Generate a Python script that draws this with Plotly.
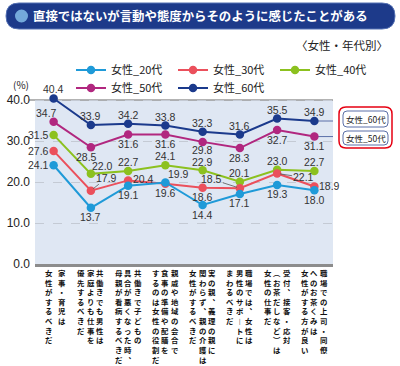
import plotly.graph_objects as go

# ---------------- data ----------------
categories = [
    "家事・育児は女性がするべきだ",
    "共働きでも男性は家庭よりも仕事を優先するべきだ",
    "共働きで子どもの具合が悪くなった時、母親が看病するべきだ",
    "親戚や地域の会合で食事の準備や配膳をするのは女性の役割だ",
    "実の親、義理の親に関わらず、親の介護は女性がするべきだ",
    "職場では、女性は男性のサポートにまわるべきだ",
    "受付、接客・応対（お茶だしなど）は女性の仕事だ",
    "職場での上司・同僚へのお茶くみは女性がする方が良い",
]
# vertical label columns (right-to-left reading order)
category_columns = [
    ["家事・育児は", "女性がするべきだ"],
    ["共働きでも男性は", "家庭よりも仕事を", "優先するべきだ"],
    ["共働きで子どもの", "具合が悪くなった時、", "母親が看病するべきだ"],
    ["親戚や地域の会合で", "食事の準備や配膳を", "するのは女性の役割だ"],
    ["実の親、義理の親に", "関わらず、親の介護は", "女性がするべきだ"],
    ["職場では、女性は", "男性のサポートに", "まわるべきだ"],
    ["受付、接客・応対", "（お茶だしなど）は", "女性の仕事だ"],
    ["職場での上司・同僚", "へのお茶くみは", "女性がする方が良い"],
]
series_names = ["女性_20代", "女性_30代", "女性_40代", "女性_50代", "女性_60代"]
v20 = [24.1, 13.7, 19.1, 19.9, 14.4, 17.1, 19.3, 18.0]
v30 = [27.6, 17.9, 20.4, 19.6, 18.6, 18.5, 22.1, 18.9]
v40 = [31.5, 22.0, 22.7, 24.1, 22.9, 20.1, 23.0, 22.7]
v50 = [34.7, 28.5, 31.6, 31.6, 29.8, 28.3, 32.7, 31.1]
v60 = [40.4, 33.9, 34.2, 33.8, 32.3, 31.6, 35.5, 34.9]
y_ticks = [0, 10, 20, 30, 40]
y_max = 41  # axis headroom so the 40.4 label can be shown
title_text = "直接ではないが言動や態度からそのように感じたことがある"
subtitle_text = "〈女性・年代別〉"
callout_series = ["女性_60代", "女性_50代"]

# ---------------- styles ----------------
colors = ["#1f9ad8", "#eb505c", "#8cc11f", "#b1277f", "#1b3a8c"]
L, R, T, B = "left", "right", "top", "bottom"
label_pos = [
    [L, B, B, None, B, B, B, B],
    [L, None, R, B, B, None, None, R],
    [L, T, T, T, T, T, T, T],
    [T, B, B, B, B, B, B, B],
    [T, T, T, T, T, T, T, T],
]
pos_style = {
    T: dict(xanchor="center", yanchor="middle", xshift=0, yshift=9),
    B: dict(xanchor="center", yanchor="middle", xshift=0, yshift=-9.5),
    L: dict(xanchor="right", yanchor="middle", xshift=-4, yshift=0),
    R: dict(xanchor="left", yanchor="middle", xshift=4, yshift=1),
}
label_nudge = {(2, 1): (12, -1), (3, 1): (-4, 0), (3, 0): (-7, 0),
               (3, 4): (0, 1), (2, 4): (0, -1)}
# leader-line labels: (series index, category index) -> text offset px
leaders = {(0, 3): (13, -8), (1, 1): (16, -13), (1, 5): (-28, -9), (1, 6): (26, 4)}
# legend item positions (container px: legend left, row centre)
legend_pos = [(71, 70), (173, 70), (275, 70), (71, 88), (173, 88)]

FONT = "Noto Sans CJK JP"
NUM_FONT = "Liberation Sans"
W, H = 400, 366
ML, MR, MT, MB = 35, 67, 96, 102
PW, PH = W - ML - MR, H - MT - MB


def px_x(px):
    return (px - ML) / PW


def px_y(py):
    return (H - MB - py) / PH


def rrect(x0, y0, x1, y1, r):
    X, Y = px_x, px_y
    return (f"M {X(x0 + r)},{Y(y0)} L {X(x1 - r)},{Y(y0)} Q {X(x1)},{Y(y0)} {X(x1)},{Y(y0 + r)} "
            f"L {X(x1)},{Y(y1 - r)} Q {X(x1)},{Y(y1)} {X(x1 - r)},{Y(y1)} "
            f"L {X(x0 + r)},{Y(y1)} Q {X(x0)},{Y(y1)} {X(x0)},{Y(y1 - r)} "
            f"L {X(x0)},{Y(y0 + r)} Q {X(x0)},{Y(y0)} {X(x0 + r)},{Y(y0)} Z")


all_values = [v20, v30, v40, v50, v60]
fig = go.Figure()
xs = list(range(len(categories)))
legend_ids = ["legend", "legend2", "legend3", "legend4", "legend5"]

for k in reversed(range(len(series_names))):
    fig.add_trace(go.Scatter(
        x=xs, y=all_values[k], name=series_names[k], mode="lines+markers",
        line=dict(color=colors[k], width=2),
        marker=dict(color=colors[k], size=8.5),
        cliponaxis=False, legend=legend_ids[k], hoverinfo="skip",
    ))

annotations = []
label_font = dict(family=NUM_FONT, size=10.5, color="#333333")
for k, vals in enumerate(all_values):
    for i, v in enumerate(vals):
        p = label_pos[k][i]
        if p is None:
            continue
        st = dict(pos_style[p])
        dx, dy = label_nudge.get((k, i), (0, 0))
        st["xshift"] += dx
        st["yshift"] += dy
        annotations.append(dict(x=i, y=v, xref="x", yref="y", text=f"{v:.1f}",
                                showarrow=False, font=label_font, borderpad=0, **st))
for (k, i), (ax, ay) in leaders.items():
    v = all_values[k][i]
    annotations.append(dict(
        x=i, y=v, xref="x", yref="y", text=f"{v:.1f}", showarrow=True,
        arrowhead=0, arrowwidth=0.8, arrowcolor="#555555", ax=ax, ay=ay,
        standoff=3, font=label_font, borderpad=0,
    ))

# vertical category labels
vert_map = {"、": "︑", "（": "︵", "）": "︶", "ー": "︱"}
for i, cols in enumerate(category_columns):
    n = len(cols)
    gap = 13 if n == 2 else 9.6
    off = 2 if n == 2 else 0
    for j, col in enumerate(cols):
        chars = [vert_map.get(c, c) for c in col]
        annotations.append(dict(
            x=i, y=0, xref="x", yref="paper", xanchor="center", yanchor="top",
            xshift=((n - 1) / 2 - j) * gap + off, yshift=-1.5,
            text="<br>".join(chars), showarrow=False, align="center", borderpad=0,
            font=dict(family=FONT, size=7.4, color="#111111", weight="bold"),
        ))

# title banner
shapes = [
    dict(type="path", xref="paper", yref="paper", path=rrect(6, 3, 395, 29, 13),
         fillcolor="#1d3a8a", line=dict(color="#5571b3", width=1), layer="above"),
    dict(type="circle", xref="paper", yref="paper", x0=px_x(15), x1=px_x(28),
         y0=px_y(22.5), y1=px_y(9.5), fillcolor="#74a9da", line=dict(width=0), layer="above"),
]
annotations.append(dict(x=px_x(32), y=px_y(16), xref="paper", yref="paper",
                        xanchor="left", yanchor="middle", text=title_text, showarrow=False,
                        borderpad=0, font=dict(family=FONT, size=12.4, color="white", weight="bold")))
annotations.append(dict(x=px_x(389), y=px_y(45), xref="paper", yref="paper",
                        xanchor="right", yanchor="middle", text=subtitle_text, showarrow=False,
                        borderpad=0, font=dict(family=FONT, size=11.5, color="#222222")))
annotations.append(dict(x=px_x(30), y=px_y(84), xref="paper", yref="paper",
                        xanchor="right", yanchor="middle", text="(%)", showarrow=False,
                        borderpad=0, font=dict(family=FONT, size=10, color="#222222")))

# white headroom above 40 and the top border line at 40
shapes.append(dict(type="rect", xref="paper", yref="y", x0=0, x1=1, y0=y_ticks[-1], y1=y_max,
                   fillcolor="white", line=dict(width=0), layer="below"))
shapes.append(dict(type="line", xref="paper", yref="y", x0=-0.02, x1=1, y0=y_ticks[-1], y1=y_ticks[-1],
                   line=dict(color="#9a9a9a", width=1.5), layer="below"))

# callout boxes for 60代 / 50代
shapes.append(dict(type="path", xref="paper", yref="paper", path=rrect(339, 107, 392, 148, 7),
                   fillcolor="white", line=dict(color="#e60012", width=1.5)))
box_y = {"女性_60代": (111, 127), "女性_50代": (131, 145)}
for name in callout_series:
    k = series_names.index(name)
    y0, y1 = box_y[name]
    shapes.append(dict(type="path", xref="paper", yref="paper", path=rrect(343, y0, 388, y1, 4),
                       fillcolor="white", line=dict(color="#5a6fa8", width=1)))
    last = all_values[k][-1]
    shapes.append(dict(type="line", xref="x", yref="y", x0=len(categories) - 1, x1=7.76,
                       y0=last, y1=last, line=dict(color="#5a6fa8", width=1), layer="below"))
    annotations.append(dict(x=px_x(365.5), y=px_y((y0 + y1) / 2), xref="paper", yref="paper",
                            xanchor="center", yanchor="middle", text=name, showarrow=False,
                            borderpad=0, font=dict(family=FONT, size=8.5, color="#222222")))

legend_layouts = {}
for k, lid in enumerate(legend_ids):
    lx, ly = legend_pos[k]
    legend_layouts[lid] = dict(
        xref="container", yref="container", x=lx / W, y=1 - ly / H,
        xanchor="left", yanchor="middle", orientation="h",
        font=dict(family=FONT, size=11, color="#222222"),
        bgcolor="rgba(0,0,0,0)", borderwidth=0, itemclick=False, itemdoubleclick=False,
    )

fig.update_layout(
    width=W, height=H,
    margin=dict(l=ML, r=MR, t=MT, b=MB, autoexpand=False),
    paper_bgcolor="white", plot_bgcolor="#dfe7f3",
    font=dict(family=FONT, color="#222222"),
    xaxis=dict(range=[-0.5, len(categories) - 0.5], showticklabels=False, showgrid=False,
               zeroline=False, showline=True, linecolor="#8c8c8c", linewidth=2.5, ticks="",
               automargin=False, fixedrange=True),
    yaxis=dict(range=[y_ticks[0], y_max], tickvals=y_ticks,
               ticktext=[f"{t:.1f}" for t in y_ticks], showgrid=True, gridcolor="#c4cad4",
               griddash="dash", gridwidth=1, zeroline=False, showline=False, automargin=False,
               tickfont=dict(family=NUM_FONT, size=12, color="#222222"), ticklabelstandoff=4,
               fixedrange=True),
    shapes=shapes, annotations=annotations, showlegend=True,
    **legend_layouts,
)
fig.write_html("out.html", config={"displayModeBar": False},
               post_script="document.body.style.margin='0px';")
